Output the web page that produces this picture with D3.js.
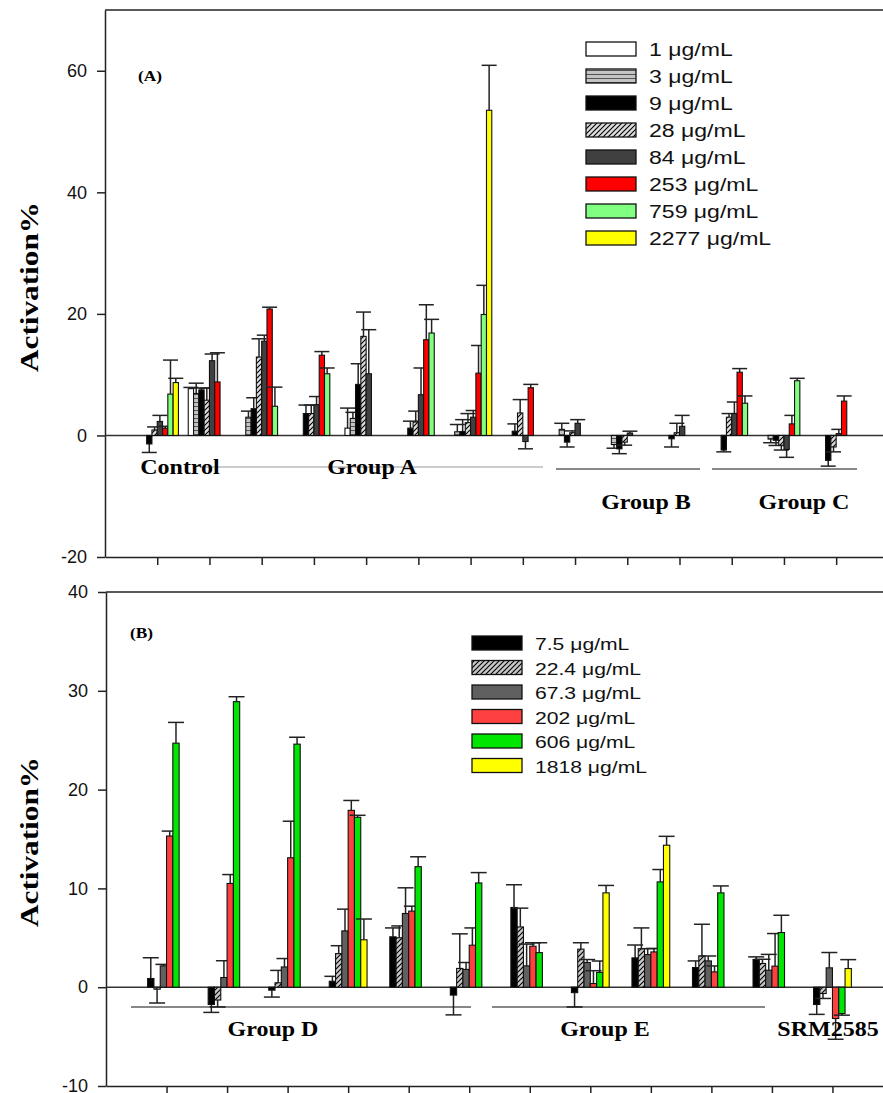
<!DOCTYPE html>
<html>
<head>
<meta charset="utf-8">
<script src="https://cdn.jsdelivr.net/npm/d3@7"></script>
<style>
body { margin: 0; background: #fff; }
svg { display: block; }
</style>
</head>
<body>
<script>
const W = 883, H = 1093;

// panel A: 14 groups (Control, Group A x7, Group B x3, Group C x3)
const concA = ["1 μg/mL", "3 μg/mL", "9 μg/mL", "28 μg/mL", "84 μg/mL", "253 μg/mL", "759 μg/mL", "2277 μg/mL"];
const a1    = [0, 7.7, 0, 0, 1.2, 0, 0, 0, 0, 0, 0, 0, 0, 0];
const a1e   = [0, 0.2, 0, 0, 3.3, 0, 0, 0, 0, 0, 0, 0, 0, 0];
const a3    = [0, 6.9, 3.0, 0, 2.8, 0, 0.6, 0, 1.0, -1.5, 0, 0, -0.6, 0];
const a3e   = [0, 1.7, 1.0, 0, 1.0, 0, 1.2, 0, 1.0, 0.6, 0, 0, 0.6, 0];
const a9    = [-1.4, 7.5, 4.4, 3.6, 8.4, 1.2, 0.65, 0.7, -1.1, -2.2, -0.55, -2.4, -0.8, -4.1];
const a9e   = [1.4, 0.3, 1.8, 1.4, 3.4, 1.15, 1.95, 1.2, 0.8, 0.8, 1.35, 0.3, 0.85, 0.95];
const a28   = [0.9, 5.8, 12.9, 3.6, 16.3, 2.2, 2.1, 3.7, 0.45, -1.1, 0.45, 3.0, -1.6, -1.9];
const a28e  = [0.5, 2.0, 3.0, 1.4, 4.0, 1.8, 1.5, 2.2, 0.3, 0.5, 1.55, 0.6, 0.8, 0.8];
const a84   = [2.3, 12.3, 15.5, 5.05, 10.15, 6.7, 3.0, -1.0, 2.0, 0.4, 1.5, 3.6, -2.3, 0.3];
const a84e  = [1.0, 1.1, 1.0, 1.35, 7.25, 4.4, 1.1, 1.2, 0.6, 0.3, 1.8, 1.9, 1.3, 0.7];
const a253  = [1.2, 8.8, 20.8, 13.2, 0, 15.75, 10.25, 7.85, 0, 0, 0, 10.4, 1.9, 5.65];
const a253e = [0.3, 4.8, 0.3, 0.6, 0, 5.75, 4.55, 0.55, 0, 0, 0, 0.6, 1.4, 0.85];
const a759  = [6.8, 0, 4.8, 10.15, 0, 16.85, 19.9, 0, 0, 0, 0, 5.3, 9.0, 0];
const a759e = [5.6, 0, 3.15, 0.95, 0, 2.25, 4.8, 0, 0, 0, 0, 1.2, 0.4, 0];
const a2277  = [8.7, 0, 0, 0, 0, 0, 53.5, 0, 0, 0, 0, 0, 0, 0];
const a2277e = [0.7, 0, 0, 0, 0, 0, 7.4, 0, 0, 0, 0, 0, 0, 0];

// panel B: 12 groups (Group D x6, Group E x5, SRM2585)
const concB = ["7.5 μg/mL", "22.4 μg/mL", "67.3 μg/mL", "202 μg/mL", "606 μg/mL", "1818 μg/mL"];
const b75    = [0.88, -1.75, -0.3, 0.6, 5.1, -0.8, 8.07, -0.55, 2.97, 1.99, 2.8, -1.75];
const b75e   = [2.1, 0.8, 0.7, 0.5, 0.9, 2.0, 2.3, 1.45, 1.3, 0.67, 0.27, 1.0];
const b224   = [-0.2, -1.3, 0.45, 3.4, 5.0, 1.9, 6.1, 3.85, 3.9, 3.17, 2.4, -0.64];
const b224e  = [1.4, 0.7, 1.25, 0.8, 1.2, 3.5, 1.9, 0.65, 2.1, 3.2, 0.43, 0.5];
const b673   = [2.16, 0.98, 2.05, 5.7, 7.46, 1.8, 2.16, 2.5, 3.3, 2.66, 1.72, 1.96];
const b673e  = [0.15, 1.7, 0.85, 2.2, 2.6, 0.7, 2.2, 0.3, 0.6, 0.5, 1.6, 1.55];
const b202   = [15.3, 10.5, 13.1, 17.9, 7.7, 4.25, 4.15, 0.37, 3.57, 1.55, 2.13, -3.17];
const b202e  = [0.5, 0.9, 3.7, 1.0, 0.5, 1.75, 0.35, 1.3, 0.35, 0.6, 3.3, 2.1];
const b606   = [24.7, 28.9, 24.6, 17.2, 12.2, 10.55, 3.5, 1.5, 10.66, 9.55, 5.53, -2.67];
const b606e  = [2.1, 0.5, 0.7, 0.2, 1.0, 1.05, 1.0, 1.15, 1.25, 0.7, 1.75, 0.16];
const b1818  = [0, 0, 0, 4.8, 0, 0, 0, 9.55, 14.37, 0, 0, 1.89];
const b1818e = [0, 0, 0, 2.1, 0, 0, 0, 0.75, 0.9, 0, 0, 0.9];

const yTicksA = [-20, 0, 20, 40, 60];
const yTicksB = [-10, 0, 10, 20, 30, 40];

const seriesA = [a1, a3, a9, a28, a84, a253, a759, a2277];
const errA = [a1e, a3e, a9e, a28e, a84e, a253e, a759e, a2277e];
const fillA = ["#ffffff", "url(#hstripe)", "#000000", "url(#hatchA)", "#404040", "#ff0000", "#80ff80", "#ffff00"];

const seriesB = [b75, b224, b673, b202, b606, b1818];
const errB = [b75e, b224e, b673e, b202e, b606e, b1818e];
const fillB = ["#000000", "url(#hatchB)", "#606060", "#ff4040", "#00e600", "#ffff00"];

const svg = d3.select("body").append("svg")
  .attr("width", W)
  .attr("height", H);

// stretch a text sideways, the original export is wider than the font
function stretch(sel, k) {
  sel.each(function () {
    const w = this.getComputedTextLength();
    d3.select(this).attr("textLength", w * k).attr("lengthAdjust", "spacingAndGlyphs");
  });
}

const defs = svg.append("defs");
let p = defs.append("pattern").attr("id", "hstripe").attr("patternUnits", "userSpaceOnUse")
  .attr("width", 6).attr("height", 4);
p.append("rect").attr("width", 6).attr("height", 4).attr("fill", "#c4c4c4");
p.append("rect").attr("y", 2).attr("width", 6).attr("height", 1).attr("fill", "#555");

function hatch(id, bg) {
  let pt = defs.append("pattern").attr("id", id).attr("patternUnits", "userSpaceOnUse")
    .attr("width", 5).attr("height", 5);
  pt.append("rect").attr("width", 5).attr("height", 5).attr("fill", bg);
  pt.append("path").attr("d", "M-1,6 L6,-1 M-1,1 L1,-1 M4,6 L6,4")
    .attr("stroke", "#000").attr("stroke-width", 1.1);
}
hatch("hatchA", "#dcdcdc");
hatch("hatchB", "#c8c8c8");

function panel(opt) {
  const { y, x, series, errs, fills, n, bw, cap, slots } = opt;
  const g = svg.append("g");
  const x0 = x.range()[0], x1 = x.range()[1];

  // frame
  g.append("line").attr("x1", x0).attr("x2", x1)
    .attr("y1", y.range()[1]).attr("y2", y.range()[1])
    .attr("stroke", "#222").attr("stroke-width", 1.5);

  const ax = g.append("g")
    .attr("transform", `translate(${x0},0)`)
    .call(d3.axisLeft(y).tickValues(opt.yTicks).tickSize(8).tickSizeOuter(0).tickPadding(10)
      .tickFormat(d => String(d)));
  ax.selectAll("text").attr("font-family", "Liberation Sans, Arial").attr("font-size", 18).attr("fill", "#111");
  ax.selectAll("line, path").attr("stroke", "#222").attr("stroke-width", 1.5);

  const bx = g.append("g")
    .attr("transform", `translate(0,${y.range()[0]})`)
    .call(d3.axisBottom(x).tickValues(d3.range(1, n + 1)).tickSize(8).tickSizeOuter(0).tickFormat(""));
  bx.selectAll("line, path").attr("stroke", "#222").attr("stroke-width", 1.5);

  // zero line
  g.append("line").attr("x1", x0).attr("x2", x1)
    .attr("y1", y(0)).attr("y2", y(0))
    .attr("stroke", "#333").attr("stroke-width", 1.5);

  series.forEach((vals, s) => {
    const rows = vals.map((v, i) => ({ v, e: errs[s][i], i }))
      .filter(d => d.v !== 0);
    const cx = d => x(d.i + 1) - (slots / 2) * bw + s * bw + bw / 2;

    const eg = g.append("g").attr("stroke", "#222").attr("stroke-width", 1.5);
    rows.filter(d => d.e > 0).forEach(d => {
      const end = d.v >= 0 ? d.v + d.e : d.v - d.e;
      eg.append("line").attr("x1", cx(d)).attr("x2", cx(d))
        .attr("y1", y(d.v)).attr("y2", y(end));
      eg.append("line").attr("x1", cx(d) - cap / 2).attr("x2", cx(d) + cap / 2)
        .attr("y1", y(end)).attr("y2", y(end));
    });

    g.append("g").selectAll("rect").data(rows).join("rect")
      .attr("x", d => cx(d) - bw / 2)
      .attr("width", bw)
      .attr("y", d => y(Math.max(0, d.v)))
      .attr("height", d => Math.abs(y(d.v) - y(0)))
      .attr("fill", fills[s])
      .attr("stroke", "#111")
      .attr("stroke-width", 1.1);
  });

  // legend
  const lg = g.append("g");
  opt.labels.forEach((lab, k) => {
    const ly = opt.legY + k * opt.legStep;
    lg.append("rect").attr("x", opt.legX).attr("y", ly - 7).attr("width", 50).attr("height", 14)
      .attr("fill", fills[k]).attr("stroke", "#111").attr("stroke-width", 1.3);
    lg.append("text").attr("x", opt.legX + 63).attr("y", ly + 7)
      .attr("font-family", "Liberation Sans, Arial").attr("font-size", opt.legFont)
      .attr("fill", "#111").text(lab)
      .call(stretch, 1.28);
  });

  // axis title
  svg.append("text")
    .attr("transform", `translate(38,${opt.titleY}) rotate(-90)`)
    .attr("text-anchor", "middle")
    .attr("font-family", "Liberation Serif, Times New Roman").attr("font-weight", "bold")
    .attr("font-size", 25).text("Activation%")
    .call(stretch, 1.25);

  svg.append("text").attr("x", opt.tagX).attr("y", opt.tagY)
    .attr("font-family", "Liberation Serif, Times New Roman").attr("font-weight", "bold")
    .attr("font-size", 15).text(opt.tag)
    .call(stretch, 1.15);
}

const yA = d3.scaleLinear().domain([-20, 70]).range([557, 10]);
const xA = d3.scaleLinear().domain([0, 15]).range([105, 888.4]);
panel({ y: yA, x: xA, series: seriesA, errs: errA, fills: fillA, n: 14, bw: 5.3, cap: 15, slots: 8,
  yTicks: yTicksA, labels: concA, legX: 586, legY: 49, legStep: 27, legFont: 18,
  titleY: 287, tag: "(A)", tagX: 138, tagY: 81 });

const yB = d3.scaleLinear().domain([-10, 40]).range([1086, 592]);
const xB = d3.scaleLinear().domain([0, 13]).range([106, 893]);
panel({ y: yB, x: xB, series: seriesB, errs: errB, fills: fillB, n: 12, bw: 6.3, cap: 16, slots: 6,
  yTicks: yTicksB, labels: concB, legX: 472, legY: 643, legStep: 24.5, legFont: 16.5,
  titleY: 842, tag: "(B)", tagX: 130, tagY: 638 });

// group labels and underlines
const groupLabels = [
  { t: "Control", x: 180, y: 474 },
  { t: "Group A", x: 372, y: 474 },
  { t: "Group B", x: 646, y: 509 },
  { t: "Group C", x: 804, y: 509 },
  { t: "Group D", x: 273, y: 1036 },
  { t: "Group E", x: 605, y: 1036 },
  { t: "SRM2585", x: 828, y: 1036 }
];
const groupLines = [
  { x1: 200, x2: 543, y: 467, c: "#999" },
  { x1: 556, x2: 700, y: 469, c: "#111" },
  { x1: 712, x2: 857, y: 469, c: "#111" },
  { x1: 131, x2: 471, y: 1007, c: "#111" },
  { x1: 492, x2: 765, y: 1007, c: "#111" }
];
svg.selectAll(".gl").data(groupLines).join("line")
  .attr("x1", d => d.x1).attr("x2", d => d.x2)
  .attr("y1", d => d.y).attr("y2", d => d.y)
  .attr("stroke", d => d.c).attr("stroke-width", 1);
svg.selectAll(".gt").data(groupLabels).join("text")
  .attr("x", d => d.x).attr("y", d => d.y)
  .attr("text-anchor", "middle")
  .attr("font-family", "Liberation Serif, Times New Roman").attr("font-weight", "bold")
  .attr("font-size", 20).text(d => d.t)
  .call(stretch, 1.2);
</script>
</body>
</html>
